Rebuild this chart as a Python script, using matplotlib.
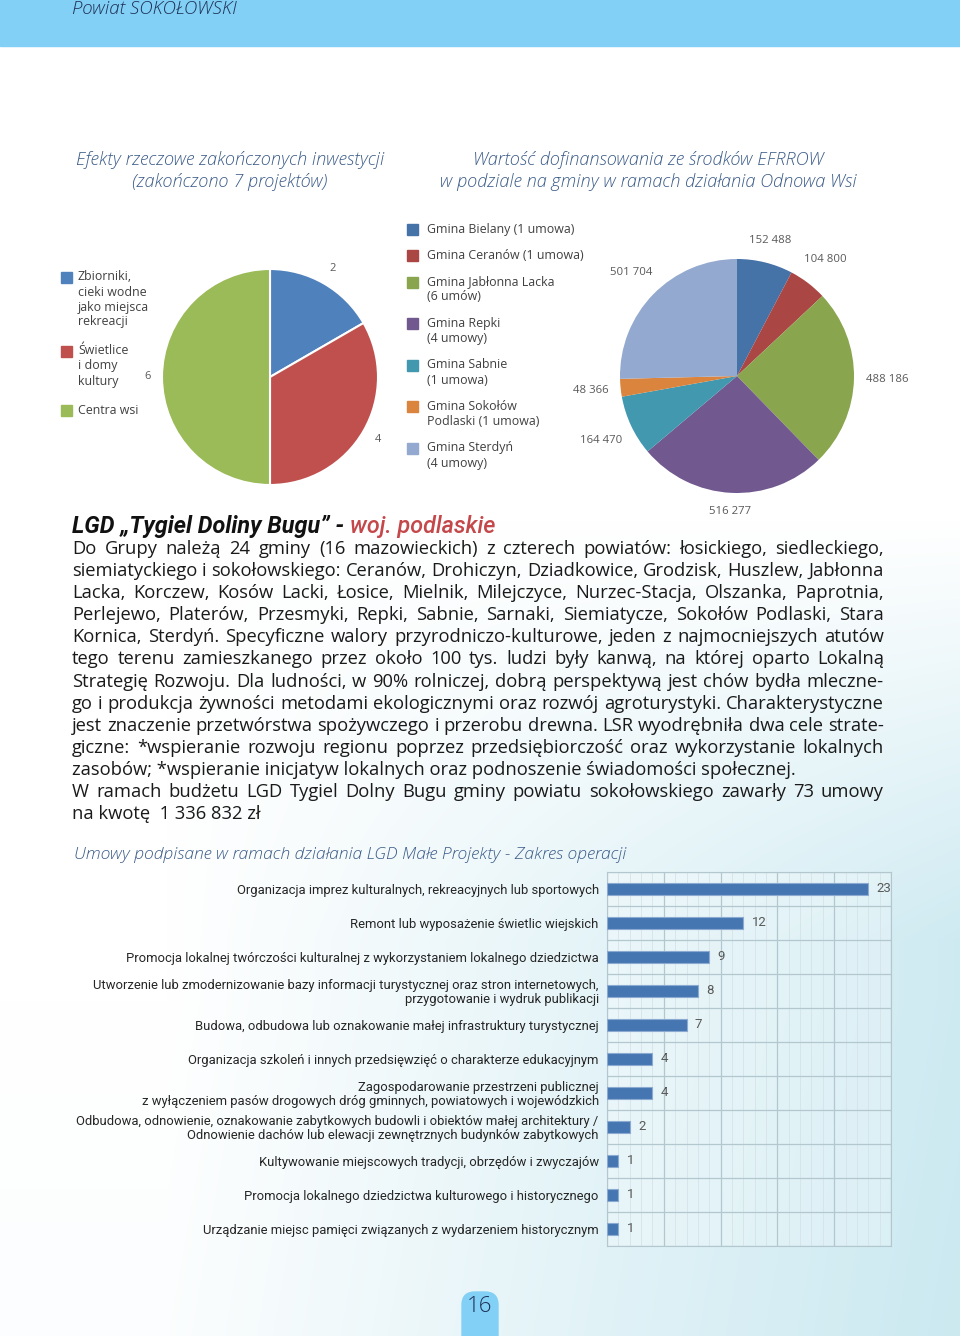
'''
Strona 16 - Powiat SOKOŁOWSKI
* dwa wykresy kołowe + wykres słupkowy
'''

import numpy as np
import matplotlib
matplotlib.use('Agg')
import matplotlib.pyplot as plt
from matplotlib.patches import Rectangle, FancyBboxPatch

# Dane: efekty rzeczowe
efekty_kat = ['Zbiorniki,\ncieki wodne\njako miejsca\nrekreacji',
              'Świetlice\ni domy\nkultury',
              'Centra wsi']
efekty_val = [2, 4, 6]
efekty_kol = ['#4f81bd', '#c0504d', '#9bbb59']

# Dane: dofinansowanie wg gmin
gminy = ['Gmina Bielany (1 umowa)', 'Gmina Ceranów (1 umowa)',
         'Gmina Jabłonna Lacka\n(6 umów)', 'Gmina Repki\n(4 umowy)',
         'Gmina Sabnie\n(1 umowa)', 'Gmina Sokołów\nPodlaski (1 umowa)',
         'Gmina Sterdyń\n(4 umowy)']
kwoty = [152488, 104800, 488186, 516277, 164470, 48366, 501704]
gminy_kol = ['#4572a7', '#aa4643', '#89a54e', '#71588f', '#4198af',
             '#db843d', '#93a9cf']

# Dane: umowy wg zakresu operacji
zakres = ['Organizacja imprez kulturalnych, rekreacyjnych lub sportowych',
          'Remont lub wyposażenie świetlic wiejskich',
          'Promocja lokalnej twórczości kulturalnej z wykorzystaniem lokalnego dziedzictwa',
          'Utworzenie lub zmodernizowanie bazy informacji turystycznej oraz stron internetowych,\nprzygotowanie i wydruk publikacji',
          'Budowa, odbudowa lub oznakowanie małej infrastruktury turystycznej',
          'Organizacja szkoleń i innych przedsięwzięć o charakterze edukacyjnym',
          'Zagospodarowanie przestrzeni publicznej\nz wyłączeniem pasów drogowych dróg gminnych, powiatowych i wojewódzkich',
          'Odbudowa, odnowienie, oznakowanie zabytkowych budowli i obiektów małej architektury /\nOdnowienie dachów lub elewacji zewnętrznych budynków zabytkowych',
          'Kultywowanie miejscowych tradycji, obrzędów i zwyczajów',
          'Promocja lokalnego dziedzictwa kulturowego i historycznego',
          'Urządzanie miejsc pamięci związanych z wydarzeniem historycznym']
umowy = [23, 12, 9, 8, 7, 4, 4, 2, 1, 1, 1]

# Tekst strony
tytul1 = ['Efekty rzeczowe zakończonych inwestycji', '(zakończono 7 projektów)']
tytul2 = ['Wartość dofinansowania ze środków EFRROW',
          'w podziale na gminy w ramach działania Odnowa Wsi']
akapit = [
    ('Do Grupy należą 24  gminy (16  mazowieckich) z czterech powiatów: łosickiego, siedleckiego,', True),
    ('siemiatyckiego i sokołowskiego: Ceranów, Drohiczyn, Dziadkowice, Grodzisk, Huszlew, Jabłonna', True),
    ('Lacka, Korczew, Kosów Lacki, Łosice, Mielnik, Milejczyce, Nurzec-Stacja, Olszanka, Paprotnia,', True),
    ('Perlejewo, Platerów, Przesmyki, Repki, Sabnie, Sarnaki, Siemiatycze, Sokołów Podlaski, Stara', True),
    ('Kornica, Sterdyń. Specyficzne walory przyrodniczo-kulturowe, jeden z najmocniejszych atutów', True),
    ('tego terenu zamieszkanego przez około 100 tys. ludzi  były kanwą, na której oparto Lokalną', True),
    ('Strategię Rozwoju. Dla ludności, w 90%  rolniczej, dobrą perspektywą jest chów bydła mleczne-', True),
    ('go i produkcja żywności metodami ekologicznymi oraz  rozwój agroturystyki. Charakterystyczne', True),
    ('jest znaczenie przetwórstwa spożywczego i przerobu drewna. LSR wyodrębniła dwa cele strate-', True),
    ('giczne: *wspieranie rozwoju regionu  poprzez przedsiębiorczość oraz wykorzystanie lokalnych', True),
    ('zasobów; *wspieranie inicjatyw lokalnych oraz podnoszenie świadomości społecznej.', False),
    ('W ramach budżetu LGD Tygiel Dolny Bugu gminy powiatu sokołowskiego zawarły 73 umowy', True),
    ('na kwotę  1 336 832 zł', False),
]

SANS = ['Open Sans', 'DejaVu Sans']
NARROW = ['Roboto', 'DejaVu Sans']
W, H = 960, 1336

fig = plt.figure(figsize=(W / 100, H / 100), dpi=100)

# Tło strony (osie w pikselach)
bg = fig.add_axes([0, 0, 1, 1])
yy, xx = np.mgrid[0:H, 0:W]
a = np.clip(1.15 * xx / W - 0.2, 0, 1) * np.clip((yy - 520) / 420, 0, 1)
a = np.clip(a + 0.07 * np.clip((yy - 1000) / 336, 0, 1), 0, 1)[..., None]
img = np.array([1., 1., 1.]) * (1 - a) + np.array([0.80, 0.915, 0.945]) * a
bg.imshow(img, extent=[0, W, H, 0], aspect='auto', zorder=0)
bg.set_xlim(0, W)
bg.set_ylim(H, 0)
bg.axis('off')

# Nagłówek
bg.add_patch(Rectangle((0, 0), W, 46, color='#82d0f5', zorder=1))
bg.text(72, 9, 'Powiat SOKOŁOWSKI', fontsize=13.4, style='italic', weight='light',
        family=SANS, color='#1e2f55', va='center', zorder=2)

# Tytuły wykresów kołowych
for i, linia in enumerate(tytul1):
    bg.text(230, 160 + 22 * i, linia, fontsize=13.1, style='italic', weight='light',
            family=SANS, color='#3a5b88', ha='center', va='center')
for i, linia in enumerate(tytul2):
    bg.text(648, 160 + 22 * i, linia, fontsize=13.1, style='italic', weight='light',
            family=SANS, color='#3a5b88', ha='center', va='center')


def legenda(kat, kolory, x, dx, y0, gap):
    y = y0
    for k, c in zip(kat, kolory):
        bg.add_patch(Rectangle((x, y - 5.5), 11, 11, color=c, zorder=2))
        for j, linia in enumerate(k.split('\n')):
            bg.text(x + dx, y + 15 * j, linia, fontsize=8.9, family=SANS,
                    color='#404040', va='center', zorder=2)
        y += 15 * len(k.split('\n')) + gap


legenda(efekty_kat, efekty_kol, 61, 17, 277, 14)
legenda(gminy, gminy_kol, 407, 20, 229, 11.5)


def etykiety(ax, wedges, texts, R_px, gap):
    r = fig.canvas.get_renderer()
    for w, t in zip(wedges, texts):
        ang = np.deg2rad((w.theta1 + w.theta2) / 2)
        t.set_ha('center')
        t.set_va('center')
        bb = t.get_window_extent(r)
        d = R_px + gap + abs(np.cos(ang)) * bb.width / 2 + abs(np.sin(ang)) * bb.height / 2
        t.set_position((np.cos(ang) * d / R_px, np.sin(ang) * d / R_px))


# Wykres kołowy 1
R1 = 108
ax1 = fig.add_axes([(270 - R1) / W, 1 - (377 + R1) / H, 2 * R1 / W, 2 * R1 / H])
w1, t1 = ax1.pie(efekty_val, colors=efekty_kol, startangle=90, counterclock=False,
                 labels=[str(v) for v in efekty_val],
                 wedgeprops=dict(edgecolor='white', linewidth=1.5),
                 textprops=dict(fontsize=8, color='#595959', family=SANS))
ax1.set_xlim(-1, 1)
ax1.set_ylim(-1, 1)
ax1.axis('off')
etykiety(ax1, w1, t1, R1, 11)

# Wykres kołowy 2
R2 = 117
ax2 = fig.add_axes([(737 - R2) / W, 1 - (376 + R2) / H, 2 * R2 / W, 2 * R2 / H])
w2, t2 = ax2.pie(kwoty, colors=gminy_kol, startangle=90, counterclock=False,
                 labels=[f'{v:,}'.replace(',', ' ') for v in kwoty],
                 wedgeprops=dict(edgecolor='none'),
                 textprops=dict(fontsize=8.2, color='#595959', family=SANS))
ax2.set_xlim(-1, 1)
ax2.set_ylim(-1, 1)
ax2.axis('off')
etykiety(ax2, w2, t2, R2, 12)

# Nagłówek LGD
r = fig.canvas.get_renderer()
h1 = bg.text(72, 533, 'LGD „Tygiel Doliny Bugu” - ', fontsize=16.8, weight='bold',
             style='italic', family=NARROW, color='#111111', va='baseline')
bb = h1.get_window_extent(r)
bg.text(72 + bb.width, 533, 'woj. podlaskie', fontsize=16.8, style='italic',
        weight='medium', family=NARROW, color='#c4474a', va='baseline')

# Akapit wyjustowany
x0, x1 = 72, 884
for i, (linia, just) in enumerate(akapit):
    yb = 554 + 22.1 * i
    if not just:
        bg.text(x0, yb, linia, fontsize=13.2, family=SANS, color='#1a1a1a', va='baseline')
        continue
    slowa = linia.split()
    obj = [bg.text(0, yb, s, fontsize=13.2, family=SANS, color='#1a1a1a', va='baseline')
           for s in slowa]
    szer = [o.get_window_extent(r).width for o in obj]
    odstep = (x1 - x0 - sum(szer)) / (len(slowa) - 1)
    x = x0
    for o, s in zip(obj, szer):
        o.set_x(x)
        x += s + odstep

# Tytuł wykresu słupkowego
bg.text(74, 855, 'Umowy podpisane w ramach działania LGD Małe Projekty - Zakres operacji',
        fontsize=12.6, style='italic', weight='light', family=SANS, color='#3a5b88',
        va='center')

# Wykres słupkowy
axb = fig.add_axes([607 / W, 1 - 1246 / H, 284 / W, 374 / H])
axb.set_facecolor((1, 1, 1, 0.25))
y = np.arange(len(zakres))
bars = axb.barh(y, umowy, height=0.36, color='#4676b1', edgecolor='#8aaad2',
                linewidth=0.8, zorder=3)
axb.bar_label(bars, padding=6, fontsize=9.5, color='#595959', family=NARROW)
axb.set_xlim(0, 25)
axb.set_ylim(len(zakres) - 0.5, -0.5)
axb.set_xticks(np.arange(0, 26, 5))
axb.set_xticks(np.arange(0, 26, 1), minor=True)
axb.set_yticks(y, labels=zakres)
axb.set_yticks(np.arange(-0.5, len(zakres), 1), minor=True)
axb.grid(which='major', axis='x', color='#b3c7cf', lw=0.9, zorder=0)
axb.grid(which='minor', axis='x', color='#d6e3e8', lw=0.6, zorder=0)
axb.grid(which='minor', axis='y', color='#b3c7cf', lw=0.9, zorder=0)
axb.tick_params(which='both', length=0, labelbottom=False, pad=6)
for lab in axb.get_yticklabels():
    lab.set_fontfamily(NARROW)
    lab.set_fontsize(9.4)
    lab.set_color('#262626')
    lab.set_linespacing(1.0)
for s in axb.spines.values():
    s.set_color('#b3c7cf')

# Numer strony
bg.add_patch(FancyBboxPatch((462, 1292), 36, 60, boxstyle='round,pad=0,rounding_size=13',
                            color='#82d0f5', zorder=1))
bg.text(480, 1307, '16', fontsize=16, weight='light', family=SANS, color='#1e2f55',
        ha='center', va='center', zorder=2)

plt.savefig('out.png', dpi=100)
